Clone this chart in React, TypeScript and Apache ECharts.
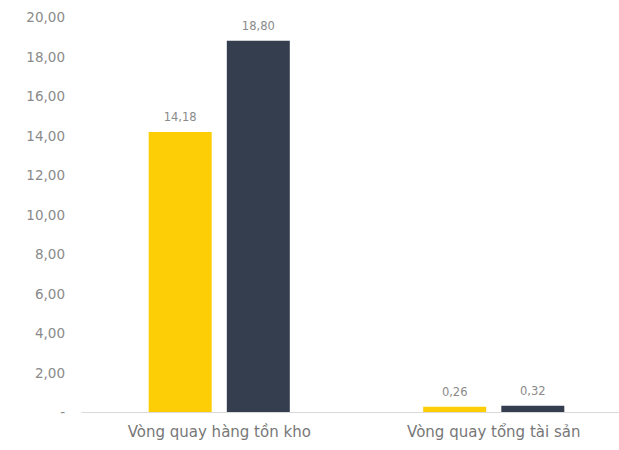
import React, { useEffect, useRef } from "react";
import * as echarts from "echarts";

const categories = ["Vòng quay hàng tồn kho", "Vòng quay tổng tài sản"];
const seriesA = [14.18, 0.26];
const seriesB = [18.8, 0.32];
const yTicks = { min: 0, max: 20, interval: 2 };

const fmt = (v: number) => (v === 0 ? "-" : v.toFixed(2).replace(".", ","));

export default function App() {
  const ref = useRef<HTMLDivElement>(null);
  useEffect(() => {
    document.body.style.margin = "0";
    const chart = echarts.init(ref.current!, null, { renderer: "svg" });
    const font = "'DejaVu Sans', sans-serif";
    chart.setOption({
      animation: false,
      grid: { left: 82, top: 17, width: 549, bottom: 38 },
      xAxis: {
        type: "category",
        data: categories,
        axisLine: { lineStyle: { color: "#d9d9d9", width: 1 } },
        axisTick: { show: false },
        axisLabel: { color: "#777", fontSize: 15, margin: 12, fontFamily: font },
      },
      yAxis: {
        type: "value",
        min: yTicks.min,
        max: yTicks.max,
        interval: yTicks.interval,
        splitLine: { show: false },
        axisLine: { show: false },
        axisTick: { show: false },
        axisLabel: { color: "#8a8a8a", fontSize: 13.5, margin: 17, fontFamily: font, formatter: fmt },
      },
      series: [
        {
          type: "bar",
          data: seriesA,
          barWidth: 63,
          barGap: "24%",
          itemStyle: { color: "#FDCD05" },
          label: { show: true, position: "top", distance: 9, color: "#8a8a8a", fontSize: 11.5, fontFamily: font, formatter: (p: any) => fmt(p.value) },
        },
        {
          type: "bar",
          data: seriesB,
          barWidth: 63,
          barGap: "24%",
          itemStyle: { color: "#343E4F" },
          label: { show: true, position: "top", distance: 9, color: "#8a8a8a", fontSize: 11.5, fontFamily: font, formatter: (p: any) => fmt(p.value) },
        },
      ],
    });
    return () => chart.dispose();
  }, []);
  return (
    <div style={{ width: 619, height: 450, overflow: "hidden", position: "relative" }}>
      <div ref={ref} style={{ width: 660, height: 450 }} />
    </div>
  );
}
